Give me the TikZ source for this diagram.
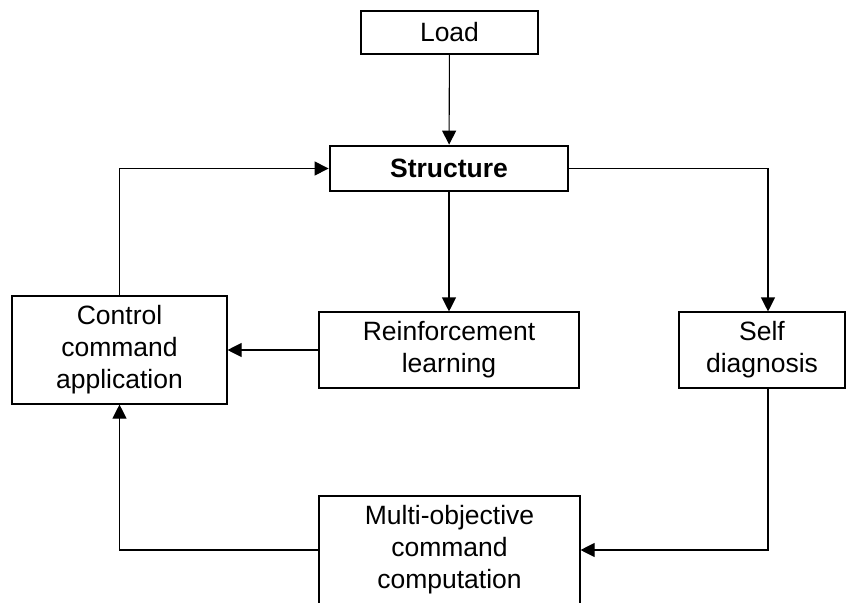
\documentclass[tikz,border=0pt]{standalone}
\usepackage{fontspec}
\setmainfont{Liberation Sans}
\usetikzlibrary{arrows.meta}
\begin{document}
\begin{tikzpicture}[x=1pt,y=-1pt,
  box/.style={draw, line width=1.1pt, inner sep=0pt, align=center,
    font=\fontsize{26.5}{32}\selectfont},
  conn/.style={line width=1.1pt, -{Triangle[length=14pt,width=14pt]}}]
\clip (0,0) rectangle (847,603);
\node[box, minimum width=177pt, minimum height=43pt] (load) at (449.5,32.5) {Load};
\node[box, line width=2.8pt, minimum width=238pt, minimum height=45pt,
  font=\fontsize{26.5}{32}\selectfont\bfseries] (struct) at (449,168.5) {Structure};
\node[box, minimum width=215pt, minimum height=108pt] (ctrl) at (119.5,350) {Control\\command\\application};
\node[box, minimum width=260pt, minimum height=76pt] (rl) at (449,350) {Reinforcement\\learning};
\node[box, minimum width=166pt, minimum height=76pt] (sd) at (762,350) {Self\\diagnosis};
\node[box, minimum width=261pt, minimum height=108pt] (mo) at (449.5,550) {Multi-objective\\command\\computation};
\draw[conn] (load) -- (struct);
\draw[conn] (struct) -- (rl);
\draw[conn] (ctrl.north) |- (struct.west);
\draw[conn] (struct.east) -| ([xshift=6pt]sd.north);
\draw[conn] (rl.west) -- (ctrl.east);
\draw[conn] ([xshift=6pt]sd.south) |- (mo.east);
\draw[conn] (mo.west) -| (ctrl.south);
\end{tikzpicture}
\end{document}
